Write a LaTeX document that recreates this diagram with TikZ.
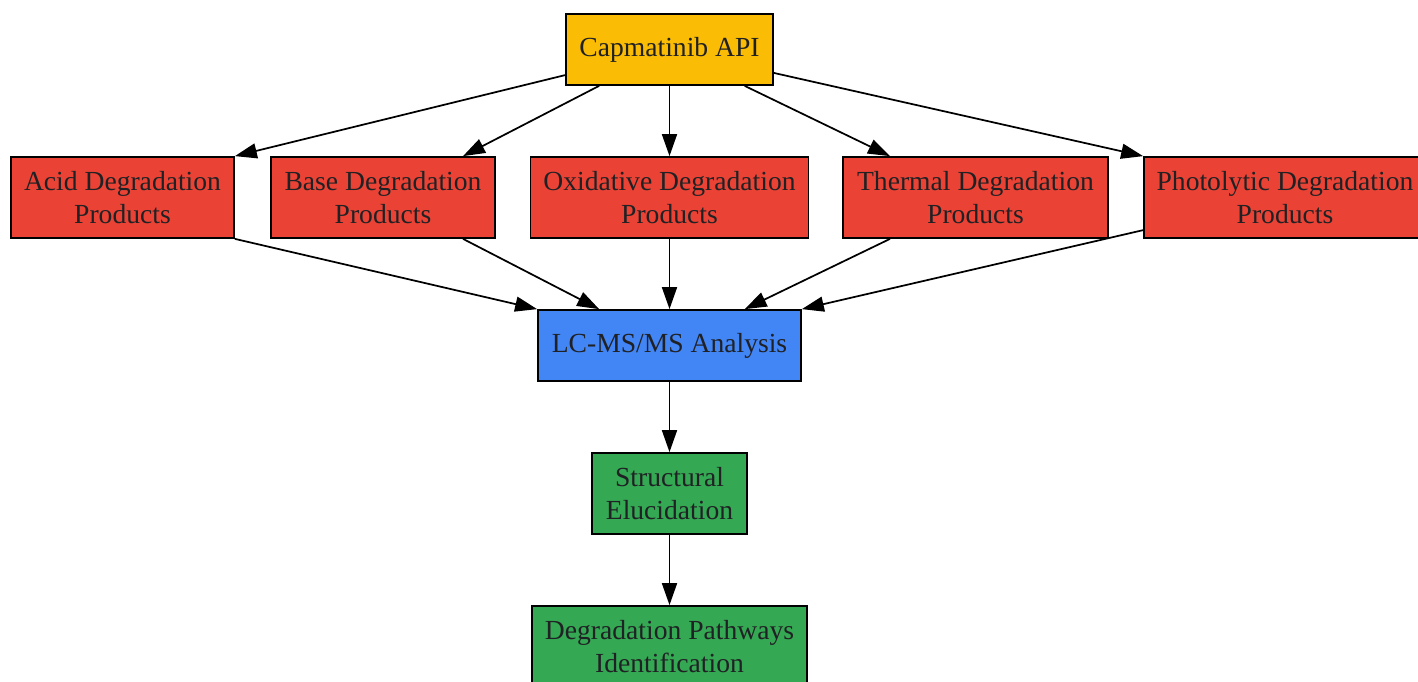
\documentclass[tikz,border=0pt]{standalone}
\usepackage{xcolor}
\usepackage{fontspec}
\setmainfont{Liberation Serif}
\usepackage{tikz}
\usetikzlibrary{positioning,arrows.meta}

\definecolor{apiyellow}{HTML}{FBBC05}
\definecolor{degred}{HTML}{EA4335}
\definecolor{lcblue}{HTML}{4285F4}
\definecolor{resgreen}{HTML}{34A853}
\definecolor{textgray}{HTML}{202124}

\tikzset{
	box/.style={draw=black, line width=1.3pt, text=textgray, align=center, inner sep=0pt,
		font=\fontsize{20.7}{24.75}\selectfont},
	prod/.style={box, fill=degred, minimum height=60.75pt},
	flow/.style={draw=black, line width=1.3pt, -{Triangle[length=16.5pt,width=11.25pt]}}
}

\begin{document}
\begin{tikzpicture}[x=0.75pt,y=-0.75pt]
	\useasboundingbox (0,0) rectangle (1418,682);
	
	% source
	\node[box, fill=apiyellow, minimum width=155.25pt, minimum height=53.25pt] (api) at (669.5,49.5) {Capmatinib API};
	
	% stress conditions
	\node[prod, minimum width=167.25pt] (acid) at (122.5,197.5) {Acid Degradation\\Products};
	\node[prod, minimum width=168pt] (base) at (383,197.5) {Base Degradation\\Products};
	\node[prod, minimum width=208.5pt] (oxid) at (669.5,197.5) {Oxidative Degradation\\Products};
	\node[prod, minimum width=198.75pt] (therm) at (975.5,197.5) {Thermal Degradation\\Products};
	\node[prod, minimum width=211.5pt] (photo) at (1285,197.5) {Photolytic Degradation\\Products};
	
	% analysis
	\node[box, fill=lcblue, minimum width=197.25pt, minimum height=53.25pt] (lcms) at (669.5,345.5) {LC-MS/MS Analysis};
	\node[box, fill=resgreen, minimum width=116.25pt, minimum height=60.75pt] (struct) at (669.5,493.5) {Structural\\Elucidation};
	\node[box, fill=resgreen, minimum width=206.25pt, minimum height=60.75pt] (path) at (669.5,646.5) {Degradation Pathways\\Identification};
	
	% edges
	\draw[flow] (api) -- (acid.north east);
	\draw[flow] (api) -- (base);
	\draw[flow] (api) -- (oxid);
	\draw[flow] (api) -- (therm);
	\draw[flow] (api) -- (photo.north west);
	
	\draw[flow] (acid.south east) -- (lcms.north west);
	\draw[flow] (base) -- (lcms);
	\draw[flow] (oxid) -- (lcms);
	\draw[flow] (therm) -- (lcms);
	\draw[flow] (photo) -- (lcms.north east);
	
	\draw[flow] (lcms) -- (struct);
	\draw[flow] (struct) -- (path);
\end{tikzpicture}
\end{document}
